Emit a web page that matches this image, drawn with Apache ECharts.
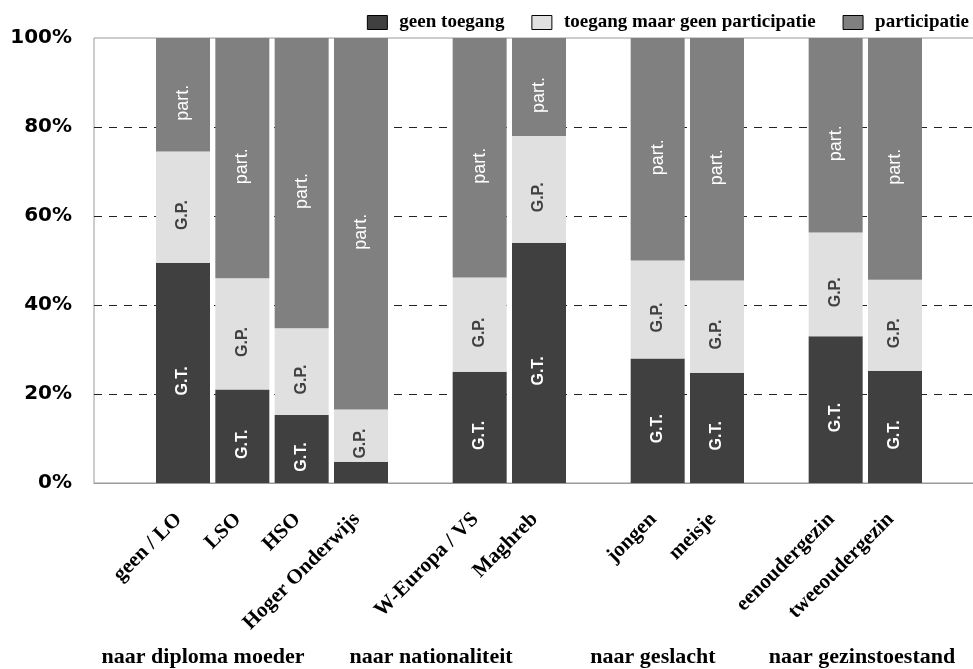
<!DOCTYPE html>
<html>
<head>
<meta charset="utf-8">
<script src="https://cdn.jsdelivr.net/npm/echarts@6/dist/echarts.min.js"></script>
<style>html,body{margin:0;padding:0;background:#fff;overflow:hidden}#c{width:984px;height:669px}</style>
</head>
<body>
<div id="c"></div>
<script>
const categories = ['', 'geen / LO', 'LSO', 'HSO', 'Hoger Onderwijs', ' ', 'W-Europa / VS', 'Maghreb', '  ', 'jongen', 'meisje', '   ', 'eenoudergezin', 'tweeoudergezin', '    '];
const geenToegang   = [null, 49.5, 21.0, 15.3, 4.8, null, 25.0, 54.0, null, 28.0, 24.8, null, 33.0, 25.2, null];
const toegangGeenP  = [null, 25.0, 25.0, 19.5, 11.7, null, 21.2, 24.0, null, 22.0, 20.7, null, 23.3, 20.5, null];
const participatie  = [null, 25.5, 54.0, 65.2, 83.5, null, 53.8, 22.0, null, 50.0, 54.5, null, 43.7, 54.3, null];
const seriesNames = ['geen toegang', 'toegang maar geen participatie', 'participatie'];
const segLabels = ['G.T.', 'G.P.', 'part.'];
const groupLabels = ['naar diploma moeder', 'naar nationaliteit', 'naar geslacht', 'naar gezinstoestand'];
const groupCenters = [203, 431, 653, 862];

const colors = ['#404040', '#e0e0e0', '#808080'];
const labelColors = ['#ffffff', '#404040', '#ffffff'];
const labelWeights = ['bold', 'bold', 'normal'];
const labelSizes = [16, 16, 18];

function mkData(arr, hideIdx) {
  return arr.map((v, i) => {
    if (v === null) return '-';
    if (hideIdx && hideIdx.indexOf(i) >= 0) return { value: v, label: { show: false } };
    return v;
  });
}

const dataSets = [mkData(geenToegang, [4]), mkData(toegangGeenP), mkData(participatie)];

const chart = echarts.init(document.getElementById('c'), null, { renderer: 'canvas' });
chart.setOption({
  animation: false,
  backgroundColor: '#fff',
  grid: { left: 94, top: 38, bottom: 186, right: 0, show: true, borderColor: '#9a9a9a', borderWidth: 1, backgroundColor: 'transparent' },
  legend: {
    right: 10, top: 8, icon: 'rect', itemWidth: 20, itemHeight: 14, itemGap: 27,
    textStyle: { fontFamily: 'Liberation Serif', fontWeight: 'bold', fontSize: 19, color: '#000', padding: [0, 0, 0, 7] },
    itemStyle: { borderColor: '#000', borderWidth: 1 },
    data: seriesNames
  },
  xAxis: {
    type: 'category', data: categories,
    axisLine: { show: true, lineStyle: { color: '#9a9a9a', width: 1 } },
    axisTick: { show: false },
    axisLabel: { interval: 0, rotate: 45, margin: 29, padding: [0, 6, 0, 0], fontFamily: 'Liberation Serif', fontWeight: 'bold', fontSize: 21, color: '#000' }
  },
  yAxis: {
    type: 'value', min: 0, max: 100, interval: 20,
    axisLine: { show: false }, axisTick: { show: false },
    axisLabel: { margin: 22, formatter: v => v + '%', fontFamily: 'DejaVu Sans', fontWeight: 'bold', fontSize: 20, color: '#000' },
    splitLine: { show: true, showMinLine: false, showMaxLine: false, lineStyle: { color: '#222', type: [8, 7], width: 1 } }
  },
  series: seriesNames.map((n, k) => ({
    name: n, type: 'bar', stack: 'total', barWidth: 54,
    itemStyle: { color: colors[k] },
    label: {
      show: true, position: 'inside', rotate: 90, offset: [-8, 0], formatter: segLabels[k],
      color: labelColors[k], fontFamily: 'Liberation Sans', fontWeight: labelWeights[k], fontSize: labelSizes[k]
    },
    data: dataSets[k]
  })),
  graphic: groupLabels.map((t, i) => ({
    type: 'text', x: groupCenters[i], y: 657,
    style: { text: t, fill: '#000', font: 'bold 22px "Liberation Serif"', align: 'center', verticalAlign: 'middle' }
  }))
});
</script>
</body>
</html>
